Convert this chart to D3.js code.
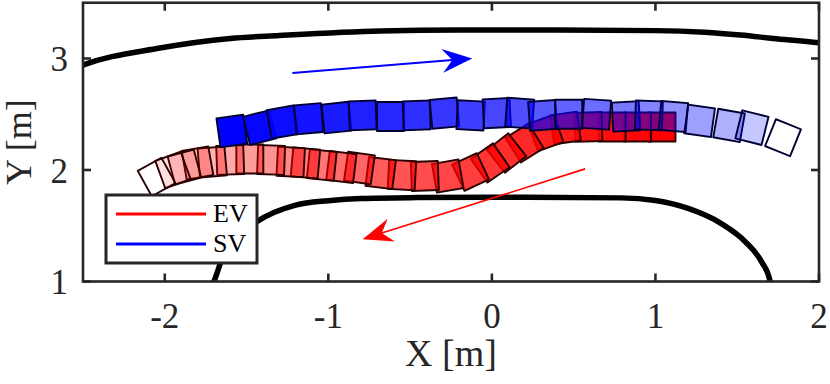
<!DOCTYPE html>
<html lang="en">
<head>
<meta charset="utf-8">
<title>EV / SV footprints</title>
<script src="https://cdn.jsdelivr.net/npm/d3@7"></script>
<style>
    body { margin: 0; background: #fff; }
    text { font-family: "Liberation Serif", "Times New Roman", serif; fill: #262626; }
    .frame { fill: none; stroke: #262626; stroke-width: 2.6; }
    .tick { stroke: #262626; stroke-width: 2.6; }
    .road { fill: none; stroke: #000; stroke-width: 5.5; }
</style>
</head>
<body>
<script>
// SV (blue) poses: x, y [m], heading [deg]
var svX = [-1.59, -1.42, -1.28, -1.12, -0.95, -0.79, -0.62, -0.46, -0.29, -0.13, 0.03, 0.17,
           0.31, 0.47, 0.64, 0.82, 0.96, 1.11, 1.27, 1.45, 1.59, 1.78];
var svY = [2.35, 2.38, 2.43, 2.46, 2.47, 2.49, 2.48, 2.49, 2.51, 2.49, 2.51, 2.51,
           2.49, 2.50, 2.50, 2.48, 2.49, 2.48, 2.44, 2.40, 2.38, 2.29];
var svYaw = [8, 14, 10, 5, 6, 2, 0, 2, 5, -3, 3, -4, 4, 0, -4, 3, -2, -5, -8, -10, -14, -22];

// EV (red) poses
var evX = [1.04, 0.89, 0.735, 0.59, 0.45, 0.33, 0.20, 0.09, -0.01, -0.13, -0.27, -0.41, -0.55, -0.68,
           -0.81, -0.92, -1.04, -1.14, -1.23, -1.35, -1.48, -1.60, -1.71, -1.80, -1.88, -1.95, -2.05];
var evY = [2.386, 2.386, 2.386, 2.386, 2.377, 2.332, 2.242, 2.152, 2.063, 1.982, 1.946, 1.946, 1.955, 1.973,
           2.018, 2.027, 2.045, 2.063, 2.072, 2.090, 2.099, 2.090, 2.072, 2.063, 2.027, 2.000, 1.937];
var evYaw = [180, 180, 180, 182, 188, 200, 212, 218, 215, 205, 190, 182, 177, 173,
             172, 173, 174, 175, 177, 178, 180, 182, 185, 190, 195, 200, 209];

// road edges
var outerEdge = [[-2.6, 2.88], [-2.52, 2.93], [-2.03, 3.094], [-1.6, 3.18], [-1.3, 3.206], [-0.68, 3.247],
                 [-0.2, 3.255], [0.4, 3.255], [1.0, 3.25], [1.3, 3.235], [1.52, 3.21], [1.72, 3.18], [2.0, 3.14], [2.1, 3.12]];
var innerEdge = [[-1.74, 0.9], [-1.70, 1.0], [-1.65, 1.2], [-1.58, 1.36], [-1.44, 1.534], [-1.2, 1.685], [-1.0, 1.725],
                 [-0.8, 1.745], [-0.5, 1.752], [0.0, 1.755], [0.79, 1.75], [1.0, 1.726], [1.2, 1.655], [1.4, 1.522],
                 [1.55, 1.356], [1.65, 1.174], [1.70, 1.01], [1.71, 0.9]];

// direction arrows [tail, tip]
var svArrow = [[-1.22, 2.87], [-0.12, 3.0]];
var evArrow = [[0.57, 2.01], [-0.79, 1.38]];

var xTicks = [-2, -1, 0, 1, 2];
var yTicks = [1, 2, 3];
var vehLen = 0.165, vehWid = 0.26;

var w = 830, h = 384;
var svg = d3.select("body").append("svg")
    .attr("width", w)
    .attr("height", h);

var x = d3.scaleLinear().domain([-2.5, 2]).range([83, 819]);
var y = d3.scaleLinear().domain([1, 3.5]).range([281.5, 2.75]);

svg.append("clipPath").attr("id", "plotclip")
    .append("rect")
        .attr("x", x(-2.5)).attr("y", y(3.5))
        .attr("width", x(2) - x(-2.5)).attr("height", y(1) - y(3.5));

var plot = svg.append("g").attr("clip-path", "url(#plotclip)");

var line = d3.line()
    .x(function(d) { return x(d[0]) })
    .y(function(d) { return y(d[1]) })
    .curve(d3.curveMonotoneX);

plot.append("path").attr("class", "road").attr("d", line(outerEdge));
plot.append("path").attr("class", "road").attr("d", line(innerEdge));

var lenPx = x(vehLen) - x(0);
var widPx = y(0) - y(vehWid);

// fade: first pose opaque, last pose nearly clear
function drawPoses(xs, ys, yaws, fill, edge, fade) {
    var n = xs.length;
    var poses = xs.map(function(d, i) { return {x: d, y: ys[i], yaw: yaws[i], i: i} });
    plot.append("g").selectAll("rect")
        .data(poses)
        .enter()
        .append("rect")
            .attr("x", -lenPx / 2)
            .attr("y", -widPx / 2)
            .attr("width", lenPx)
            .attr("height", widPx)
            .attr("transform", function(d) { return "translate(" + x(d.x) + "," + y(d.y) + ") rotate(" + (-d.yaw) + ")" })
            .attr("fill", fill)
            .attr("fill-opacity", function(d) { return Math.pow(1 - d.i / (n - 1), fade) })
            .attr("stroke", edge)
            .attr("stroke-width", 1.9)
            .attr("stroke-linejoin", "round");
}

drawPoses(evX, evY, evYaw, "#ff0000", "#2a0000", 0.65);
drawPoses(svX, svY, svYaw, "#0000ff", "#000035", 0.5);

function drawArrow(a, color, lw) {
    var tx = x(a[0][0]), ty = y(a[0][1]), px = x(a[1][0]), py = y(a[1][1]);
    var len = Math.sqrt((px - tx) * (px - tx) + (py - ty) * (py - ty));
    var ux = (px - tx) / len, uy = (py - ty) / len;
    var nx = -uy, ny = ux;
    var hl = 30, hw = 12, notch = 20;
    plot.append("line")
        .attr("x1", tx).attr("y1", ty)
        .attr("x2", px - notch * ux).attr("y2", py - notch * uy)
        .attr("stroke", color).attr("stroke-width", lw);
    plot.append("polygon")
        .attr("points", [
            [px, py],
            [px - hl * ux + hw * nx, py - hl * uy + hw * ny],
            [px - notch * ux, py - notch * uy],
            [px - hl * ux - hw * nx, py - hl * uy - hw * ny]
        ].map(function(p) { return p.join(",") }).join(" "))
        .attr("fill", color);
}

drawArrow(svArrow, "#0000ff", 2);
drawArrow(evArrow, "#ff0000", 1.6);

// axes box with inward ticks on all sides
svg.append("rect").attr("class", "frame")
    .attr("x", x(-2.5)).attr("y", y(3.5))
    .attr("width", x(2) - x(-2.5)).attr("height", y(1) - y(3.5));

var tl = 8;
svg.selectAll(".xtickb").data(xTicks).enter().append("line")
    .attr("class", "tick")
    .attr("x1", function(d) { return x(d) }).attr("x2", function(d) { return x(d) })
    .attr("y1", y(1)).attr("y2", y(1) - tl);
svg.selectAll(".xtickt").data(xTicks).enter().append("line")
    .attr("class", "tick")
    .attr("x1", function(d) { return x(d) }).attr("x2", function(d) { return x(d) })
    .attr("y1", y(3.5)).attr("y2", y(3.5) + tl);
svg.selectAll(".ytickl").data(yTicks).enter().append("line")
    .attr("class", "tick")
    .attr("y1", function(d) { return y(d) }).attr("y2", function(d) { return y(d) })
    .attr("x1", x(-2.5)).attr("x2", x(-2.5) + tl);
svg.selectAll(".ytickr").data(yTicks).enter().append("line")
    .attr("class", "tick")
    .attr("y1", function(d) { return y(d) }).attr("y2", function(d) { return y(d) })
    .attr("x1", x(2)).attr("x2", x(2) - tl);

svg.selectAll(".xlab").data(xTicks).enter().append("text")
    .attr("x", function(d) { return x(d) })
    .attr("y", 328)
    .attr("text-anchor", "middle")
    .style("font-size", "35px")
    .text(function(d) { return d });
svg.selectAll(".ylab").data(yTicks).enter().append("text")
    .attr("x", 68)
    .attr("y", function(d) { return y(d) + 12.5 })
    .attr("text-anchor", "end")
    .style("font-size", "35px")
    .text(function(d) { return d });

svg.append("text")
    .attr("x", (x(-2.5) + x(2)) / 2)
    .attr("y", 366)
    .attr("text-anchor", "middle")
    .style("font-size", "38px")
    .text("X [m]");
svg.append("text")
    .attr("transform", "translate(31," + ((y(1) + y(3.5)) / 2) + ") rotate(-90)")
    .attr("text-anchor", "middle")
    .style("font-size", "36px")
    .text("Y [m]");

// legend
var legend = svg.append("g");
legend.append("rect")
    .attr("x", 106).attr("y", 195).attr("width", 151).attr("height", 68)
    .attr("fill", "#fff").attr("stroke", "#262626").attr("stroke-width", 3);
var legendItems = [{name: "EV", color: "#ff0000"}, {name: "SV", color: "#0000ff"}];
legendItems.forEach(function(d, i) {
    var ly = 214 + i * 30;
    legend.append("line")
        .attr("x1", 116).attr("x2", 206).attr("y1", ly).attr("y2", ly)
        .attr("stroke", d.color).attr("stroke-width", 3);
    legend.append("text")
        .attr("x", 213).attr("y", ly + 8)
        .style("font-size", "26px")
        .style("fill", "#000")
        .text(d.name);
});
</script>
</body>
</html>
